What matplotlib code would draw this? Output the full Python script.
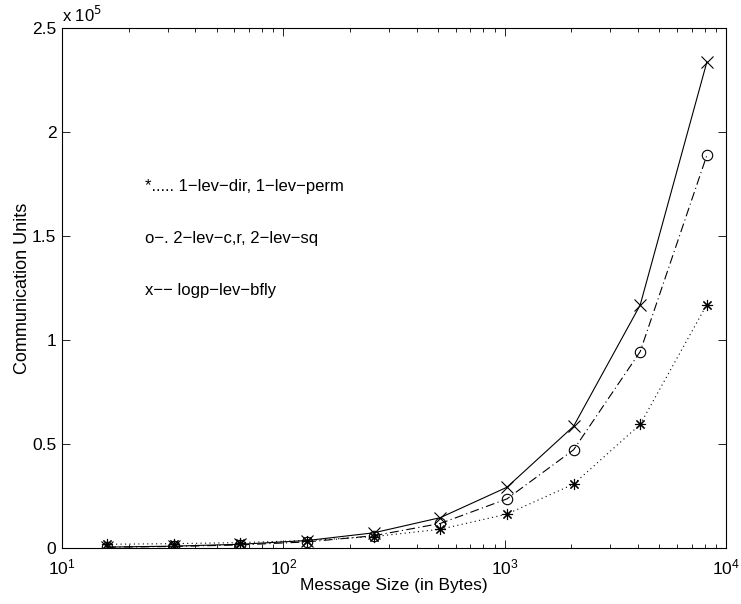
"""Communication units vs message size, MATLAB-style line chart."""

import matplotlib
matplotlib.use("Agg")
import matplotlib.pyplot as plt
from matplotlib.ticker import FixedLocator, FixedFormatter

plt.rcParams["font.family"] = ["Liberation Sans", "DejaVu Sans"]

msg_sizes = [16, 32, 64, 128, 256, 512, 1024, 2048, 4096, 8192]

# values in units of 1e5
bfly = [0.0045, 0.009, 0.018, 0.036, 0.073, 0.146, 0.292, 0.585, 1.168, 2.335]
two_lev = [0.0037, 0.0074, 0.0148, 0.0295, 0.059, 0.118, 0.236, 0.472, 0.944, 1.887]
one_lev = [0.018, 0.021, 0.026, 0.036, 0.055, 0.09, 0.163, 0.307, 0.594, 1.17]

legend_lines = [
    "*..... 1\u2212lev\u2212dir, 1\u2212lev\u2212perm",
    "o\u2212. 2\u2212lev\u2212c,r, 2\u2212lev\u2212sq",
    "x\u2212\u2212 logp\u2212lev\u2212bfly",
]

y_ticks = [0, 0.5, 1, 1.5, 2, 2.5]
y_labels = ["0", "0.5", "1", "1.5", "2", "2.5"]

fig = plt.figure(figsize=(7.41, 6.04), dpi=100)
ax = fig.add_axes([0.0837, 0.0927, 0.896, 0.861])

ax.plot(msg_sizes, bfly, color="black", lw=0.8, marker="x", ms=8, mew=0.8)
ax.plot(msg_sizes, two_lev, color="black", lw=0.8, ls=(0, (8, 3, 1, 3)),
        marker="o", ms=7.5, mew=0.8, mfc="none")
ax.plot(msg_sizes, one_lev, color="black", lw=0.8, ls=(0, (1, 3)),
        marker=(8, 2, 0), ms=8, mew=0.8)

ax.set_xscale("log")
ax.set_xlim(10, 1e4)
ax.set_ylim(0, 2.5)
ax.yaxis.set_major_locator(FixedLocator(y_ticks))
ax.yaxis.set_major_formatter(FixedFormatter(y_labels))

ax.tick_params(which="both", direction="in", top=True, right=True,
               labelsize=12.5, width=0.6)
ax.tick_params(which="major", length=6)
ax.tick_params(which="minor", length=3)
ax.tick_params(axis="x", which="both", pad=7)
ax.tick_params(axis="y", which="both", pad=4)
for sp in ax.spines.values():
    sp.set_linewidth(0.8)

ax.set_xlabel("Message Size (in Bytes)", fontsize=12.5, labelpad=0)
ax.set_ylabel("Communication Units", fontsize=13, labelpad=1)
ax.text(0.0, 1.005, r"x 10$^{5}$", transform=ax.transAxes, fontsize=12,
        ha="left", va="bottom")

for i, line in enumerate(legend_lines):
    ax.text(0.125, 0.695 - i * 0.1, line, transform=ax.transAxes,
            fontsize=12, va="center", ha="left")

fig.savefig("out.png", dpi=100)
